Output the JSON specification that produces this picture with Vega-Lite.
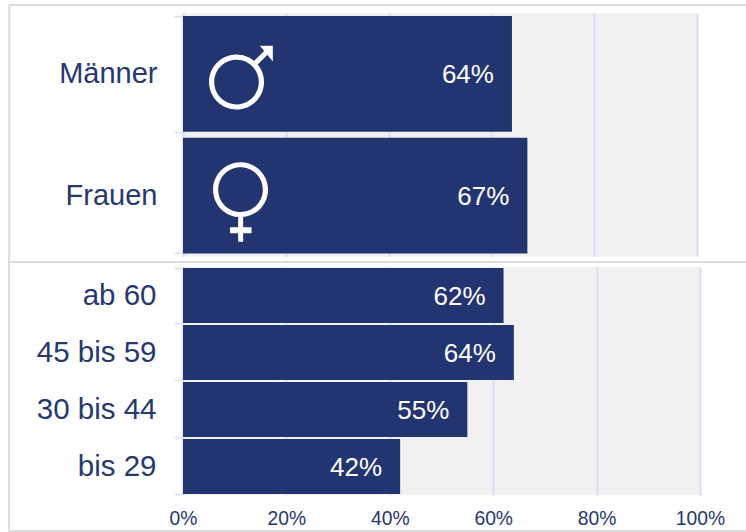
{"$schema":"https://vega.github.io/schema/vega-lite/v6.json","autosize":{"type":"pad"},"background":"white","padding":{"left":8,"top":-1,"right":0,"bottom":0},"spacing":10,"bounds":"flush","config":{"font":"Liberation Sans","view":{"stroke":null,"fill":"#f1f1f1"},"axis":{"title":null}},"datasets":{"gender":[{"group":"Männer","value":64,"pct":"64%"},{"group":"Frauen","value":67,"pct":"67%"}],"age":[{"group":"ab 60","value":62,"pct":"62%"},{"group":"45 bis 59","value":64,"pct":"64%"},{"group":"30 bis 44","value":55,"pct":"55%"},{"group":"bis 29","value":42,"pct":"42%"}],"frame":[{"edge":"frame"}]},"vconcat":[{"width":514,"height":243.5,"data":{"name":"gender"},"encoding":{"y":{"field":"group","type":"nominal","sort":["Männer","Frauen"],"scale":{"paddingInner":0.05,"paddingOuter":0.025},"axis":{"domainColor":"#d6dff2","domainWidth":2,"tickColor":"#d6dff2","tickWidth":1.5,"tickSize":9,"tickBand":"extent","labelFontSize":29,"labelColor":"#27386f","labelPadding":17,"labelFont":"Liberation Sans"}},"x":{"type":"quantitative","scale":{"domain":[0,100],"nice":false},"axis":{"values":[0,20,40,60,80,100],"grid":true,"gridColor":"#d6dff2","gridWidth":2,"labels":false,"ticks":false,"domain":false}}},"layer":[{"mark":{"type":"bar","fill":"#233570"},"encoding":{"x":{"field":"value","type":"quantitative"}}},{"mark":{"type":"text","align":"right","baseline":"middle","dx":-18,"dy":1,"fontSize":26,"fill":"white"},"encoding":{"x":{"field":"value","type":"quantitative"},"text":{"field":"pct"}}},{"transform":[{"filter":"datum.group === 'Männer'"}],"mark":{"type":"point","filled":true,"fill":"white","fillOpacity":1,"strokeWidth":0,"size":4,"shape":"M-30.5 8.2A27.5 27.5 0 1 1 24.5 8.2A27.5 27.5 0 1 1 -30.5 8.2ZM-25.3 8.2A22.3 22.3 0 1 0 19.3 8.2A22.3 22.3 0 1 0 -25.3 8.2ZM13.6 -12L24.6 -23L28.2 -19.4L17.2 -8.4ZM20.3 -28.2L33.3 -28.2L33.3 -12.5Z"},"encoding":{"x":{"datum":11}}},{"transform":[{"filter":"datum.group === 'Frauen'"}],"mark":{"type":"point","filled":true,"fill":"white","fillOpacity":1,"strokeWidth":0,"size":4,"shape":"M-26.5 -6A27.5 27.5 0 1 1 28.5 -6A27.5 27.5 0 1 1 -26.5 -6ZM-21.3 -6A22.3 22.3 0 1 0 23.3 -6A22.3 22.3 0 1 0 -21.3 -6ZM-1.4 21H3.6V31.7H12V37.7H3.6V46H-1.4V37.7H-9.6V31.7H-1.4Z"},"encoding":{"x":{"datum":11}}},{"data":{"name":"frame"},"mark":{"type":"rule","color":"#dcdcdc","strokeWidth":2,"clip":false},"encoding":{"x":{"datum":-33.8},"x2":{"datum":110},"y":{"value":-8}}},{"data":{"name":"frame"},"mark":{"type":"rule","color":"#dcdcdc","strokeWidth":2,"clip":false},"encoding":{"x":{"datum":-33.8},"x2":{"datum":110},"y":{"value":249}}},{"data":{"name":"frame"},"mark":{"type":"rule","color":"#dcdcdc","strokeWidth":2,"clip":false},"encoding":{"x":{"datum":-33.8},"y":{"value":-8},"y2":{"value":249}}}]},{"width":517,"height":228,"data":{"name":"age"},"encoding":{"y":{"field":"group","type":"nominal","sort":["ab 60","45 bis 59","30 bis 44","bis 29"],"scale":{"paddingInner":0.035,"paddingOuter":0.0175},"axis":{"domainColor":"#d6dff2","domainWidth":2,"tickColor":"#d6dff2","tickWidth":1.5,"tickSize":9,"tickBand":"extent","labelFontSize":29.5,"labelColor":"#27386f","labelPadding":18,"labelFont":"Liberation Sans"}},"x":{"type":"quantitative","scale":{"domain":[0,100],"nice":false},"axis":{"values":[0,20,40,60,80,100],"format":".0f","labelExpr":"datum.label + '%'","grid":true,"gridColor":"#d6dff2","gridWidth":2,"labelFontSize":19.3,"labelColor":"#27386f","labelPadding":14,"ticks":false,"domain":false,"labelFont":"Liberation Sans","labelOverlap":false,"labelFlush":false}}},"layer":[{"mark":{"type":"bar","fill":"#233570"},"encoding":{"x":{"field":"value","type":"quantitative"}}},{"mark":{"type":"text","align":"right","baseline":"middle","dx":-18,"dy":1,"fontSize":26,"fill":"white"},"encoding":{"x":{"field":"value","type":"quantitative"},"text":{"field":"pct"}}},{"data":{"name":"frame"},"mark":{"type":"rule","color":"#dcdcdc","strokeWidth":2,"clip":false},"encoding":{"x":{"datum":-33.65},"x2":{"datum":110},"y":{"value":264}}},{"data":{"name":"frame"},"mark":{"type":"rule","color":"#dcdcdc","strokeWidth":2,"clip":false},"encoding":{"x":{"datum":-33.65},"y":{"value":-6},"y2":{"value":264}}}]}]}
